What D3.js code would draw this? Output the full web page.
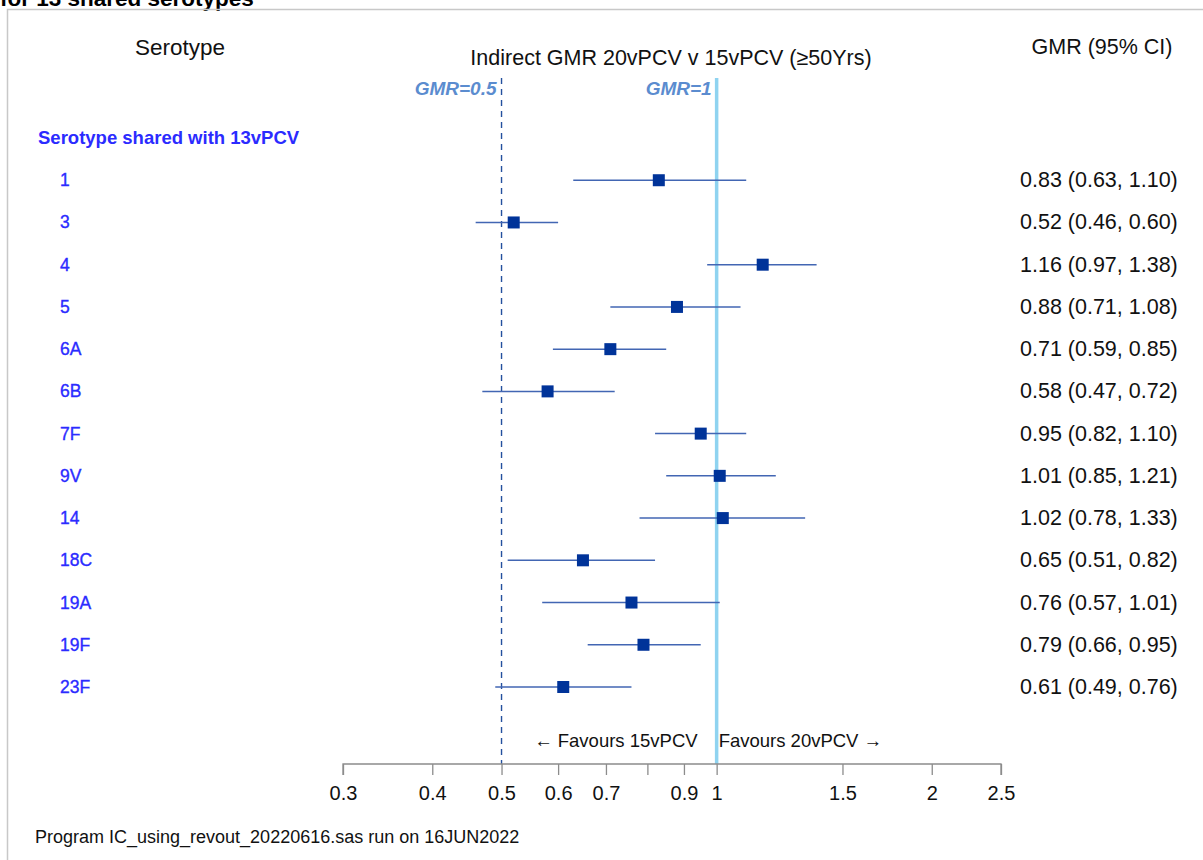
<!DOCTYPE html>
<html>
<head>
<meta charset="utf-8">
<script src="https://cdn.jsdelivr.net/npm/d3@7"></script>
<style>
  body { margin: 0; background: #fff; }
  text { font-family: "Liberation Sans", Arial, sans-serif; }
</style>
</head>
<body>
<svg width="1203" height="860"></svg>
<script>
let serotypes = ["1","3","4","5","6A","6B","7F","9V","14","18C","19A","19F","23F"];
let gmr   = [0.83, 0.52, 1.16, 0.88, 0.71, 0.58, 0.95, 1.01, 1.02, 0.65, 0.76, 0.79, 0.61];
let lower = [0.63, 0.46, 0.97, 0.71, 0.59, 0.47, 0.82, 0.85, 0.78, 0.51, 0.57, 0.66, 0.49];
let upper = [1.10, 0.60, 1.38, 1.08, 0.85, 0.72, 1.10, 1.21, 1.33, 0.82, 1.01, 0.95, 0.76];
let tickValues = [0.3, 0.4, 0.5, 0.6, 0.7, 0.8, 0.9, 1, 1.5, 2, 2.5];
let tickLabels = ["0.3","0.4","0.5","0.6","0.7","","0.9","1","1.5","2","2.5"];

const svg = d3.select("svg");
const fmt = d3.format(".2f");

// frame + cut-off title
svg.append("text").attr("x", 0).attr("y", 6)
   .attr("font-size", 22.5).attr("font-weight", "bold")
   .text("for 13 shared serotypes");
svg.append("path").attr("d", "M7.5,860 V9.5 H1203")
   .attr("fill", "none").attr("stroke", "#c8c8c8").attr("stroke-width", 1.5);

let xScale = d3.scaleLog().domain([0.3, 2.5]).range([343, 1001]);
let yScale = d3.scalePoint().domain(["hdr"].concat(serotypes)).range([138, 687]);

let axisY = 764;
let lineTop = 78;

// reference lines
svg.append("line")
   .attr("x1", xScale(1)).attr("x2", xScale(1))
   .attr("y1", lineTop).attr("y2", axisY)
   .attr("stroke", "#8fd3f0").attr("stroke-width", 3.5);
svg.append("line")
   .attr("x1", xScale(0.5)).attr("x2", xScale(0.5))
   .attr("y1", lineTop).attr("y2", axisY)
   .attr("stroke", "#24509e").attr("stroke-width", 1.4)
   .attr("stroke-dasharray", "6,5");

svg.append("text").attr("x", xScale(0.5) - 5).attr("y", 95)
   .attr("text-anchor", "end").attr("font-size", 19)
   .attr("font-weight", "bold").attr("font-style", "italic")
   .attr("fill", "#5b8ccf").text("GMR=0.5");
svg.append("text").attr("x", xScale(1) - 5).attr("y", 95)
   .attr("text-anchor", "end").attr("font-size", 19)
   .attr("font-weight", "bold").attr("font-style", "italic")
   .attr("fill", "#5b8ccf").text("GMR=1");

// headers
svg.append("text").attr("x", 180).attr("y", 55)
   .attr("text-anchor", "middle").attr("font-size", 22.5).attr("fill", "#111")
   .text("Serotype");
svg.append("text").attr("x", 671).attr("y", 65)
   .attr("text-anchor", "middle").attr("font-size", 21.5).attr("fill", "#111")
   .text("Indirect GMR 20vPCV v 15vPCV (\u226550Yrs)");
svg.append("text").attr("x", 1102).attr("y", 54)
   .attr("text-anchor", "middle").attr("font-size", 21.5).attr("fill", "#111")
   .text("GMR (95% CI)");

svg.append("text").attr("x", 38).attr("y", yScale("hdr") + 6)
   .attr("font-size", 18.5).attr("font-weight", "bold")
   .attr("fill", "#2b2bff").text("Serotype shared with 13vPCV");

// rows
let rows = svg.selectAll("g.row")
   .data(serotypes)
   .enter()
   .append("g")
   .attr("class", "row");

rows.append("text")
   .attr("x", 60).attr("y", (d) => yScale(d) + 6)
   .attr("font-size", 17.5).attr("fill", "#2b2bff")
   .attr("stroke", "#2b2bff").attr("stroke-width", 0.35)
   .text((d) => d);

rows.append("line")
   .attr("x1", (d, i) => xScale(lower[i]))
   .attr("x2", (d, i) => xScale(upper[i]))
   .attr("y1", (d) => yScale(d)).attr("y2", (d) => yScale(d))
   .attr("stroke", "#4266b3").attr("stroke-width", 1.5);

rows.append("rect")
   .attr("x", (d, i) => xScale(gmr[i]) - 6)
   .attr("y", (d) => yScale(d) - 6)
   .attr("width", 12).attr("height", 12)
   .attr("fill", "#003399");

rows.append("text")
   .attr("x", 1020).attr("y", (d) => yScale(d) + 7)
   .attr("font-size", 21.5).attr("fill", "#111")
   .text((d, i) => fmt(gmr[i]) + " (" + fmt(lower[i]) + ", " + fmt(upper[i]) + ")");

// favours labels
svg.append("text").attr("x", xScale(1) - 19).attr("y", 747)
   .attr("text-anchor", "end").attr("font-size", 18.5).attr("fill", "#111")
   .text("\u2190 Favours 15vPCV");
svg.append("text").attr("x", xScale(1) + 2).attr("y", 747)
   .attr("font-size", 18.5).attr("fill", "#111")
   .text("Favours 20vPCV \u2192");

// x axis
let xAxis = d3.axisBottom(xScale)
   .tickValues(tickValues)
   .tickFormat((d, i) => tickLabels[i])
   .tickSize(11)
   .tickPadding(11);

let gx = svg.append("g")
   .attr("transform", "translate(0," + axisY + ")")
   .call(xAxis);
gx.selectAll("path, line").attr("stroke", "#8c8c8c").attr("stroke-width", 1.3);
gx.select(".domain").attr("d", "M343,11V0H1001V11");
gx.selectAll("text").attr("font-size", 20).attr("fill", "#111")
   .attr("font-family", "Liberation Sans, Arial, sans-serif");

svg.append("text").attr("x", 35).attr("y", 843)
   .attr("font-size", 18).attr("fill", "#111")
   .text("Program IC_using_revout_20220616.sas run on 16JUN2022");
</script>
</body>
</html>
